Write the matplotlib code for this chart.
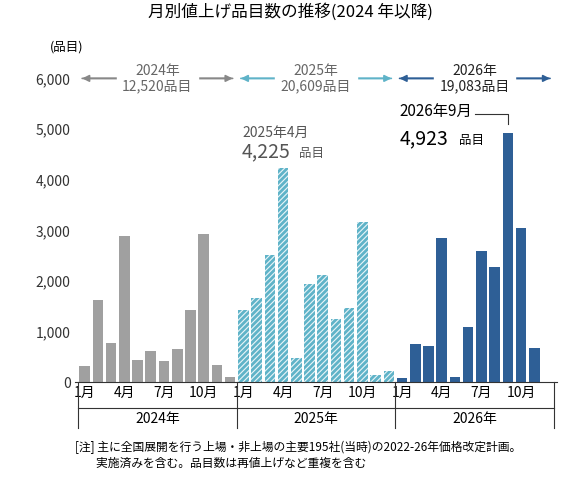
import matplotlib
matplotlib.use("Agg")
import matplotlib.pyplot as plt
plt.rcParams['font.family'] = ['Noto Sans CJK JP', 'DejaVu Sans']
plt.rcParams['hatch.linewidth'] = 2.0

v2024 = [320, 1630, 780, 2880, 440, 620, 420, 660, 1420, 2920, 340, 110]
v2025 = [1430, 1670, 2520, 4225, 480, 1930, 2110, 1250, 1470, 3160, 150, 220]
v2026 = [80, 750, 720, 2850, 100, 1100, 2600, 2280, 4923, 3040, 680, 0]
years = ["2024年", "2025年", "2026年"]
totals = ["12,520品目", "20,609品目", "19,083品目"]
month_labels = ["1月", "4月", "7月", "10月"]

fig = plt.figure(figsize=(5.8, 4.9), dpi=100)
ax = fig.add_axes([0.13, 0.22, 0.83, 0.62])
gray, teal, navy = "#a0a0a0", "#5fb3c8", "#2e5f96"
for i, v in enumerate(v2024):
    ax.bar(i, v, width=0.8, color=gray)
for i, v in enumerate(v2025):
    ax.bar(12 + i, v, width=0.8, color="#e8f5f8", edgecolor=teal, hatch="//////", linewidth=0)
for i, v in enumerate(v2026):
    if v:
        ax.bar(24 + i, v, width=0.8, color=navy)

ax.set_ylim(0, 6000)
ax.set_xlim(-0.7, 35.7)
ax.set_yticks(range(0, 6001, 1000))
ax.set_yticklabels([f"{t:,}" for t in range(0, 6001, 1000)], fontsize=10, color="#333")
ax.tick_params(axis="y", length=0)
for s in ["top", "right", "left"]:
    ax.spines[s].set_visible(False)
ax.spines["bottom"].set_color("#333")
ticks, labels = [], []
for y in range(3):
    for m, l in zip([0, 3, 6, 9], month_labels):
        ticks.append(12 * y + m); labels.append(l)
ax.set_xticks(ticks)
ax.set_xticklabels(labels, fontsize=10)
ax.tick_params(axis="x", length=0, pad=3)
for b in [-0.5, 11.5, 23.5, 35.5]:
    ax.plot([b, b], [0, -900], color="#333", lw=0.8, clip_on=False)
for y in range(3):
    ax.text(12 * y + 5.5, -720, years[y], ha="center", va="center", fontsize=10)
ax.plot([-0.5, 35.5], [-500, -500], color="#333", lw=0.8, clip_on=False)

arrow_cols = ["#888", teal, navy]
for y in range(3):
    x0, x1 = 12 * y - 0.4, 12 * y + 11.4
    ax.annotate("", xy=(x0, 6000), xytext=(x1, 6000), arrowprops=dict(arrowstyle="-|>", color=arrow_cols[y], lw=1.2), annotation_clip=False)
    ax.annotate("", xy=(x1, 6000), xytext=(x0, 6000), arrowprops=dict(arrowstyle="-|>", color=arrow_cols[y], lw=1.2), annotation_clip=False)
    ax.text(12 * y + 5.5, 6000, f"{years[y]}\n{totals[y]}", ha="center", va="center", fontsize=10,
            color="#666" if y < 2 else "#222", backgroundcolor="white", linespacing=1.1)
ax.text(-2.6, 6550, "(品目)", fontsize=9, ha="left")

ax.text(11.9, 4850, "2025年4月", fontsize=10, color="#555")
ax.text(11.9, 4450, "4,225", fontsize=14, color="#555")
ax.text(16.2, 4450, "品目", fontsize=9, color="#555")
ax.text(23.8, 5250, "2026年9月", fontsize=11)
ax.text(23.8, 4700, "4,923", fontsize=14)
ax.text(28.3, 4700, "品目", fontsize=9)
ax.plot([29.5, 32, 32], [5300, 5300, 5100], color="#333", lw=0.8)

fig.text(0.5, 0.965, "月別値上げ品目数の推移(2024 年以降)", ha="center", fontsize=12)
fig.text(0.13, 0.07, "[注] 主に全国展開を行う上場・非上場の主要195社(当時)の2022-26年価格改定計画。\n        実施済みを含む。品目数は再値上げなど重複を含む",
         fontsize=8.5, va="center", linespacing=1.3)
fig.savefig("out.png", dpi=100)
